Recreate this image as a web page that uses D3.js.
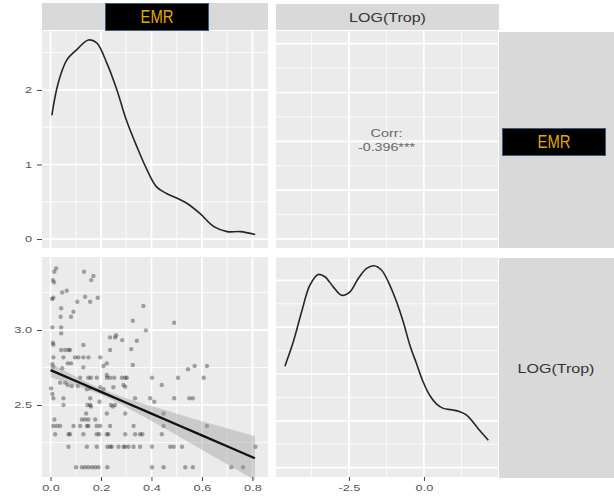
<!DOCTYPE html>
<html>
<head>
<meta charset="utf-8">
<script src="https://cdn.jsdelivr.net/npm/d3@7"></script>
<style>
  body { margin: 0; background: #fff; }
  svg { display: block; font-family: "Liberation Sans", Arial, sans-serif; }
</style>
</head>
<body>
<svg width="614" height="498"></svg>
<script>
// -------------------- DATA --------------------
// density of EMR (diagonal, top-left)
const emrDensX = [0.005, 0.03, 0.064, 0.104, 0.15, 0.183, 0.223, 0.263, 0.30, 0.342, 0.382, 0.42, 0.46, 0.50, 0.54, 0.593, 0.646, 0.70, 0.752, 0.811];
const emrDensY = [1.66, 2.09, 2.40, 2.54, 2.67, 2.63, 2.36, 2.00, 1.60, 1.24, 0.93, 0.70, 0.61, 0.55, 0.48, 0.34, 0.17, 0.10, 0.10, 0.06];

// density of LOG(Trop) (diagonal, bottom-right)
const tropDensX = [-4.633, -4.356, -4.078, -3.8, -3.522, -3.3, -3.022, -2.744, -2.467, -2.189, -1.911, -1.667, -1.411, -1.189, -0.911, -0.689, -0.467, -0.244, -0.022, 0.2, 0.422, 0.644, 0.922, 1.2, 1.422, 1.644, 1.867, 2.144];
const tropDensY = [0.1084, 0.1341, 0.1663, 0.1949, 0.2063, 0.2039, 0.1931, 0.1841, 0.1878, 0.2020, 0.2128, 0.2157, 0.2109, 0.1985, 0.1770, 0.1556, 0.1305, 0.1108, 0.0912, 0.0768, 0.0679, 0.0633, 0.0618, 0.0597, 0.0561, 0.0483, 0.0393, 0.0293];

// scatter EMR (x) vs LOG(Trop) (y)
const scatter = [
  [0.101,2.085],[0.124,2.085],[0.137,2.085],[0.150,2.085],[0.164,2.085],[0.177,2.085],[0.190,2.085],[0.225,2.085],[0.402,2.085],[0.448,2.085],[0.534,2.085],[0.564,2.085],[0.717,2.085],[0.763,2.085],
  [0.071,2.222],[0.144,2.222],[0.183,2.222],[0.225,2.222],[0.236,2.222],[0.243,2.222],[0.269,2.222],[0.289,2.222],[0.296,2.222],[0.309,2.222],[0.329,2.222],[0.355,2.222],[0.402,2.222],[0.474,2.222],[0.488,2.222],[0.521,2.222],[0.812,2.222],
  [0.018,2.305],[0.071,2.305],[0.077,2.305],[0.130,2.305],[0.183,2.305],[0.193,2.305],[0.223,2.305],[0.229,2.305],[0.296,2.305],[0.335,2.305],[0.355,2.305],[0.364,2.305],[0.441,2.305],
  [0.011,2.36],[0.025,2.36],[0.038,2.36],[0.091,2.36],[0.117,2.36],[0.144,2.36],[0.150,2.36],[0.183,2.36],[0.197,2.36],[0.236,2.36],[0.329,2.36],[0.448,2.36],[0.620,2.36],
  [0.015,2.403],[0.124,2.403],[0.137,2.403],[0.150,2.403],[0.177,2.403],
  [0.141,2.443],[0.223,2.443],[0.296,2.443],[0.448,2.443],
  [0.051,2.50],[0.157,2.50],[0.146,2.50],[0.160,2.49],[0.239,2.50],[0.256,2.50],[0.247,2.49],
  [0.011,2.545],[0.051,2.545],[0.157,2.545],[0.335,2.545],[0.395,2.545],[0.490,2.545],[0.550,2.545],[0.564,2.545],
  [0.411,2.522],[0.194,2.522],[0.007,2.573],[0.002,2.611],
  [0.038,2.649],[0.058,2.649],[0.068,2.633],[0.084,2.627],[0.108,2.627],[0.289,2.633],[0.296,2.622],[0.441,2.633],[0.144,2.605],[0.157,2.611],[0.197,2.618],[0.21,2.605],[0.249,2.618],
  [0.117,2.682],[0.150,2.682],[0.160,2.682],[0.183,2.682],[0.223,2.682],[0.236,2.682],[0.252,2.682],[0.283,2.682],[0.296,2.682],[0.302,2.682],[0.402,2.682],[0.505,2.682],[0.607,2.682],[0.223,2.70],
  [0.545,2.738],[0.571,2.76],[0.62,2.76],[0.326,2.767],[0.223,2.778],[0.21,2.76],[0.007,2.773],[0.011,2.755],[0.068,2.778],[0.081,2.778],[0.13,2.751],[0.046,2.745],
  [0.011,2.818],[0.051,2.818],[0.097,2.818],[0.110,2.818],[0.130,2.818],[0.150,2.818],[0.197,2.818],
  [0.042,2.867],[0.058,2.867],[0.071,2.867],[0.077,2.867],[0.236,2.867],[0.32,2.873],
  [0.130,2.90],[0.009,2.915],[0.011,2.902],[0.284,2.933],[0.342,2.929],[0.236,2.951],[0.26,2.965],[0.256,2.951],
  [0.378,2.998],[0.007,3.018],[0.042,3.018],[0.042,2.978],[0.326,3.062],[0.49,3.049],[0.04,3.089],[0.081,3.089],
  [0.091,3.122],[0.042,3.145],[0.368,3.16],[0.106,3.189],[0.157,3.189],[0.137,3.222],[0.187,3.215],[0.011,3.215],
  [0.006,3.207],[0.046,3.251],[0.064,3.262],[0.009,3.333],[0.014,3.318],[0.17,3.36],[0.161,3.333],[0.133,3.389],
  [0.022,3.411],[0.015,3.389]
];

// linear fit and its 95% band
const fitX = [0, 0.1, 0.2, 0.3, 0.4, 0.5, 0.6, 0.7, 0.81];
const fitY = [2.733, 2.66, 2.588, 2.515, 2.443, 2.37, 2.297, 2.225, 2.145];
const fitHalf = [0.048, 0.030, 0.020, 0.030, 0.050, 0.072, 0.095, 0.12, 0.147];

const corrValue = -0.396;
const corrStars = "***";
const varNames = ["EMR", "LOG(Trop)"];

// -------------------- LAYOUT --------------------
const svg = d3.select("svg");
const col1 = [42, 268], col2 = [276, 499];
const row1 = [31, 248], row2 = [257, 477];
const stripX = [499, 614];
const STRETCH = 1.42;

// widen text horizontally around its anchor x
function stretch(sel, factor) {
  sel.each(function() {
    const t = d3.select(this);
    const x = +t.attr("x") || 0;
    t.attr("transform", `translate(${x},0) scale(${factor},1) translate(${-x},0)`);
  });
}
function stretchTo(sel, width) {
  sel.each(function() {
    const w = this.getComputedTextLength();
    d3.select(this).call(stretch, width / w);
  });
}

// -------------------- SCALES --------------------
const xEMR = d3.scaleLinear().domain([-0.034, 0.862]).range(col1);
const xLOG = d3.scaleLinear().domain([-4.93, 2.5]).range(col2);
const yDens1 = d3.scaleLinear().domain([-0.12, 2.79]).range([row1[1], row1[0]]);
const yEMR = d3.scaleLinear().domain([-0.037, 0.852]).range([row1[1], row1[0]]);
const yTrop = d3.scaleLinear().domain([2.02, 3.487]).range([row2[1], row2[0]]);
const yDens2 = d3.scaleLinear().domain([-0.01, 0.225]).range([row2[1], row2[0]]);

// -------------------- PANELS --------------------
function panel(xs, ys, xMajor, xMinor, yMajor, yMinor) {
  const g = svg.append("g");
  const [x0, x1] = xs.range(), [y1, y0] = ys.range();
  g.append("rect").attr("x", x0).attr("y", y0).attr("width", x1 - x0).attr("height", y1 - y0).attr("fill", "#ebebeb");
  g.selectAll(".vminor").data(xMinor).enter().append("line")
    .attr("x1", d => xs(d)).attr("x2", d => xs(d)).attr("y1", y0).attr("y2", y1)
    .attr("stroke", "#fff").attr("stroke-width", 0.8);
  g.selectAll(".hminor").data(yMinor).enter().append("line")
    .attr("y1", d => ys(d)).attr("y2", d => ys(d)).attr("x1", x0).attr("x2", x1)
    .attr("stroke", "#fff").attr("stroke-width", 0.8);
  g.selectAll(".vmajor").data(xMajor).enter().append("line")
    .attr("x1", d => xs(d)).attr("x2", d => xs(d)).attr("y1", y0).attr("y2", y1)
    .attr("stroke", "#fff").attr("stroke-width", 1.7);
  g.selectAll(".hmajor").data(yMajor).enter().append("line")
    .attr("y1", d => ys(d)).attr("y2", d => ys(d)).attr("x1", x0).attr("x2", x1)
    .attr("stroke", "#fff").attr("stroke-width", 1.7);
  return g;
}

const emrMajor = [0, 0.2, 0.4, 0.6, 0.8], emrMinor = [0.1, 0.3, 0.5, 0.7];
const logMajor = [-2.5, 0, 2.5], logMinor = [-3.75, -1.25, 1.25];

const p11 = panel(xEMR, yDens1, emrMajor, emrMinor, [0, 1, 2], [0.5, 1.5, 2.5]);
const p12 = panel(xLOG, yEMR, logMajor, logMinor, emrMajor, emrMinor);
const p21 = panel(xEMR, yTrop, emrMajor, emrMinor, [2.5, 3.0], [2.25, 2.75, 3.25]);
const p22 = panel(xLOG, yDens2, logMajor, logMinor, [0, 0.05, 0.1, 0.15, 0.2], [0.025, 0.075, 0.125, 0.175, 0.225]);

// density EMR
const line1 = d3.line().x(d => xEMR(d[0])).y(d => yDens1(d[1])).curve(d3.curveCatmullRom);
p11.append("path").datum(d3.zip(emrDensX, emrDensY)).attr("d", line1)
  .attr("fill", "none").attr("stroke", "#262626").attr("stroke-width", 1.6);

// density LOG(Trop)
const line2 = d3.line().x(d => xLOG(d[0])).y(d => yDens2(d[1])).curve(d3.curveCatmullRom);
p22.append("path").datum(d3.zip(tropDensX, tropDensY)).attr("d", line2)
  .attr("fill", "none").attr("stroke", "#262626").attr("stroke-width", 1.6);

// correlation text
const cx = (col2[0] + col2[1]) / 2 - 1;
p12.append("text").attr("x", cx).attr("y", 137).attr("text-anchor", "middle")
  .attr("font-size", 10.5).attr("fill", "#666").text("Corr:")
  .call(stretchTo, 32);
p12.append("text").attr("x", cx).attr("y", 151).attr("text-anchor", "middle")
  .attr("font-size", 10.5).attr("fill", "#666").text(corrValue.toFixed(3) + corrStars)
  .call(stretchTo, 57);

// -------------------- SCATTER + LM --------------------
p21.selectAll("circle").data(scatter).enter().append("circle")
  .attr("cx", d => xEMR(d[0])).attr("cy", d => yTrop(d[1])).attr("r", 2.2)
  .attr("fill", "#000").attr("fill-opacity", 0.33);

const fit = fitX.map((x, i) => ({ x, y: fitY[i], lo: fitY[i] - fitHalf[i], hi: fitY[i] + fitHalf[i] }));
p21.append("path").datum(fit)
  .attr("d", d3.area().x(d => xEMR(d.x)).y0(d => yTrop(d.lo)).y1(d => yTrop(d.hi)).curve(d3.curveMonotoneX))
  .attr("fill", "#999").attr("fill-opacity", 0.4);
p21.append("path").datum(fit)
  .attr("d", d3.line().x(d => xEMR(d.x)).y(d => yTrop(d.y)))
  .attr("fill", "none").attr("stroke", "#111").attr("stroke-width", 2.4);

// -------------------- AXES --------------------
function styleAxis(g) {
  g.select(".domain").remove();
  g.selectAll(".tick line").attr("stroke", "#444").attr("stroke-width", 1);
  g.selectAll(".tick text").attr("fill", "#555").attr("font-size", 9)
    .attr("font-family", "Liberation Sans, Arial, sans-serif")
    .call(stretch, STRETCH);
}
const fmt1 = d => d.toFixed(1);

svg.append("g").attr("transform", `translate(${col1[0]},0)`)
  .call(d3.axisLeft(yDens1).tickValues([0, 1, 2]).tickFormat(d3.format("d")).tickSize(5).tickPadding(5))
  .call(styleAxis);
svg.append("g").attr("transform", `translate(${col1[0]},0)`)
  .call(d3.axisLeft(yTrop).tickValues([2.5, 3.0]).tickFormat(fmt1).tickSize(5).tickPadding(5))
  .call(styleAxis);
svg.append("g").attr("transform", `translate(0,${row2[1]})`)
  .call(d3.axisBottom(xEMR).tickValues(emrMajor).tickFormat(fmt1).tickSize(4).tickPadding(4))
  .call(styleAxis);
svg.append("g").attr("transform", `translate(0,${row2[1]})`)
  .call(d3.axisBottom(xLOG).tickValues([-2.5, 0]).tickFormat(fmt1).tickSize(4).tickPadding(4))
  .call(styleAxis);

// -------------------- STRIPS --------------------
// top strips
svg.append("rect").attr("x", col1[0]).attr("y", 3).attr("width", col1[1] - col1[0]).attr("height", 27).attr("fill", "#d9d9d9");
svg.append("rect").attr("x", col2[0]).attr("y", 4).attr("width", col2[1] - col2[0]).attr("height", 26).attr("fill", "#d9d9d9");
// right strips
svg.append("rect").attr("x", stripX[0]).attr("y", row1[0] + 1).attr("width", stripX[1] - stripX[0]).attr("height", row1[1] - row1[0] - 1).attr("fill", "#d9d9d9");
svg.append("rect").attr("x", stripX[0]).attr("y", row2[0] + 1).attr("width", stripX[1] - stripX[0]).attr("height", row2[1] - row2[0]).attr("fill", "#d9d9d9");

function emrLabel(x, y, w, h) {
  svg.append("rect").attr("x", x).attr("y", y).attr("width", w).attr("height", h)
    .attr("fill", "#000").attr("stroke", "#3d5a78").attr("stroke-width", 1);
  svg.append("text").attr("x", x + w / 2).attr("y", y + h / 2 + 6.5).attr("text-anchor", "middle")
    .attr("font-family", "Liberation Sans Narrow, Arial Narrow, Liberation Sans, sans-serif")
    .attr("font-size", 18).attr("fill", "#e0a800")
    .text(varNames[0])
    .call(stretchTo, 33);
}
emrLabel(105.5, 3.5, 103, 27);
emrLabel(502.5, 128.5, 103, 27);

function logLabel(x, y) {
  svg.append("text").attr("x", x).attr("y", y).attr("text-anchor", "middle")
    .attr("font-size", 12.5).attr("fill", "#333")
    .text(varNames[1])
    .call(stretchTo, 77);
}
logLabel((col2[0] + col2[1]) / 2, 22);
logLabel(556, 373);
</script>
</body>
</html>
